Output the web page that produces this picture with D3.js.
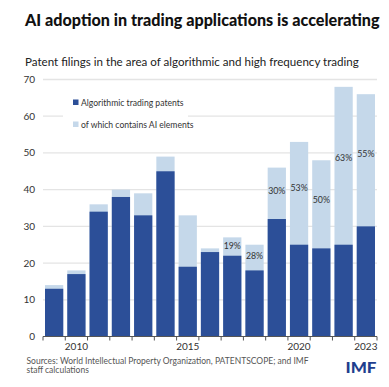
<!DOCTYPE html>
<html>
<head>
<meta charset="utf-8">
<script src="https://cdn.jsdelivr.net/npm/d3@7"></script>
<style>
  body { margin: 0; background: #fff; }
  text { font-family: Lato, "Open Sans", sans-serif; }
</style>
</head>
<body>
<div class="chart"></div>
<script>
var svgWidth = 389;
var svgHeight = 387;

var margin = { top: 79.5, right: 12, bottom: 50.5, left: 43 };
var width = svgWidth - margin.left - margin.right;
var height = svgHeight - margin.top - margin.bottom;

// data
var years = [2009, 2010, 2011, 2012, 2013, 2014, 2015, 2016, 2017, 2018, 2019, 2020, 2021, 2022, 2023];
var totalPatents = [14, 18, 36, 40, 39, 49, 33, 24, 27, 25, 46, 53, 48, 68, 66];
var algoPatents = [13, 17, 34, 38, 33, 45, 19, 23, 22, 18, 32, 25, 24, 25, 30];
var shareLabels = [null, null, null, null, null, null, null, null, "19%", "28%", "30%", "53%", "50%", "63%", "55%"];
var yTicks = [0, 10, 20, 30, 40, 50, 60, 70];
var xLabelYears = [2010, 2015, 2020, 2023];

var darkBlue = "#2c4f98";
var lightBlue = "#c5d8ea";

var svg = d3.select(".chart")
  .append("svg")
  .attr("width", svgWidth)
  .attr("height", svgHeight);

// shrink a text's font until it spans the wanted width
function fitWidth(sel, target) {
  var node = sel.node();
  var fs = +sel.attr("font-size");
  var w = node.getComputedTextLength();
  sel.attr("font-size", fs * target / w);
}

// title + subtitle
var title = svg.append("text")
  .attr("x", 25)
  .attr("y", 25.5)
  .attr("font-size", 16)
  .attr("font-weight", 900)
  .attr("fill", "#111")
  .text("AI adoption in trading applications is accelerating");
fitWidth(title, 355);

var subtitle = svg.append("text")
  .attr("x", 25)
  .attr("y", 66)
  .attr("font-size", 12)
  .attr("fill", "#222")
  .text("Patent filings in the area of algorithmic and high frequency trading");
fitWidth(subtitle, 334);

var chartGroup = svg.append("g")
  .attr("transform", `translate(${margin.left}, ${margin.top})`);

var xBand = d3.scaleBand()
  .domain(years)
  .range([0, width])
  .paddingInner(0.18)
  .paddingOuter(0.09);

var yLinear = d3.scaleLinear()
  .domain([0, 70])
  .range([height, 0]);

// gridlines
chartGroup.selectAll(".grid")
  .data(yTicks.slice(1))
  .enter()
  .append("line")
  .attr("x1", 0)
  .attr("x2", width)
  .attr("y1", d => yLinear(d))
  .attr("y2", d => yLinear(d))
  .attr("stroke", "#e4e4e4")
  .attr("stroke-width", 1.3);

// y labels
chartGroup.selectAll(".ylab")
  .data(yTicks)
  .enter()
  .append("text")
  .attr("x", -8)
  .attr("y", d => yLinear(d))
  .attr("dy", "0.35em")
  .attr("text-anchor", "end")
  .attr("font-size", 10)
  .attr("fill", "#333")
  .text(d => d);

// legend box blocks the gridline
var legend = chartGroup.append("g");
legend.append("rect")
  .attr("x", 20)
  .attr("y", 8)
  .attr("width", 125)
  .attr("height", 50)
  .attr("fill", "#fff");

var legendItems = [
  { label: "Algorithmic trading patents", color: darkBlue, y: 23 },
  { label: "of which contains AI elements", color: lightBlue, y: 45 }
];
legendItems.forEach(function(item) {
  legend.append("rect")
    .attr("x", 30)
    .attr("y", item.y - 3)
    .attr("width", 5.5)
    .attr("height", 5.5)
    .attr("fill", item.color);
  legend.append("text")
    .attr("x", 38)
    .attr("y", item.y)
    .attr("dy", "0.35em")
    .attr("font-size", 8.6)
    .attr("fill", "#333")
    .text(item.label);
});

var rows = years.map((y, i) => ({
  year: y, total: totalPatents[i], algo: algoPatents[i], share: shareLabels[i]
}));

// light bars (total)
chartGroup.selectAll(".total")
  .data(rows)
  .enter()
  .append("rect")
  .attr("x", d => xBand(d.year))
  .attr("width", xBand.bandwidth())
  .attr("y", d => yLinear(d.total))
  .attr("height", d => yLinear(0) - yLinear(d.total))
  .attr("fill", lightBlue);

// dark bars (algorithmic)
chartGroup.selectAll(".algo")
  .data(rows)
  .enter()
  .append("rect")
  .attr("x", d => xBand(d.year))
  .attr("width", xBand.bandwidth())
  .attr("y", d => yLinear(d.algo))
  .attr("height", d => yLinear(0) - yLinear(d.algo))
  .attr("fill", darkBlue);

// share labels, a bit above the middle of the light part
chartGroup.selectAll(".share")
  .data(rows.filter(d => d.share))
  .enter()
  .append("text")
  .attr("x", d => xBand(d.year) + xBand.bandwidth() / 2)
  .attr("y", d => {
    var top = yLinear(d.total), bot = yLinear(d.algo);
    return top + (bot - top) * 0.45;
  })
  .attr("dy", "0.35em")
  .attr("text-anchor", "middle")
  .attr("font-size", 8.8)
  .attr("fill", "#333")
  .text(d => d.share);

// x axis line + ticks at band edges
chartGroup.append("line")
  .attr("x1", 0)
  .attr("x2", width)
  .attr("y1", height)
  .attr("y2", height)
  .attr("stroke", "#555")
  .attr("stroke-width", 1);

var step = xBand.step();
var edges = d3.range(years.length + 1).map(i => i * step);
chartGroup.selectAll(".xtick")
  .data(edges)
  .enter()
  .append("line")
  .attr("x1", d => d)
  .attr("x2", d => d)
  .attr("y1", height)
  .attr("y2", height + 4)
  .attr("stroke", "#555");

chartGroup.selectAll(".xlab")
  .data(xLabelYears)
  .enter()
  .append("text")
  .attr("x", d => xBand(d) + xBand.bandwidth() / 2)
  .attr("y", height + 10)
  .attr("dy", "0.35em")
  .attr("text-anchor", "middle")
  .attr("font-size", 10)
  .attr("fill", "#333")
  .text(d => d);

// source note
var src = svg.append("text")
  .attr("x", 26.5)
  .attr("y", 363.5)
  .attr("font-size", 8.5)
  .attr("fill", "#555");
src.append("tspan").attr("x", 26.5).text("Sources: World Intellectual Property Organization, PATENTSCOPE; and IMF");
src.append("tspan").attr("x", 26.5).attr("dy", 9).text("staff calculations");

// logo
svg.append("text")
  .attr("x", 345.5)
  .attr("y", 372.7)
  .attr("font-size", 15)
  .attr("font-weight", 900)
  .attr("font-family", "Liberation Sans, Arial, sans-serif")
  .attr("textLength", 31)
  .attr("lengthAdjust", "spacingAndGlyphs")
  .attr("fill", "#1f3e8e")
  .text("IMF");
</script>
</body>
</html>
